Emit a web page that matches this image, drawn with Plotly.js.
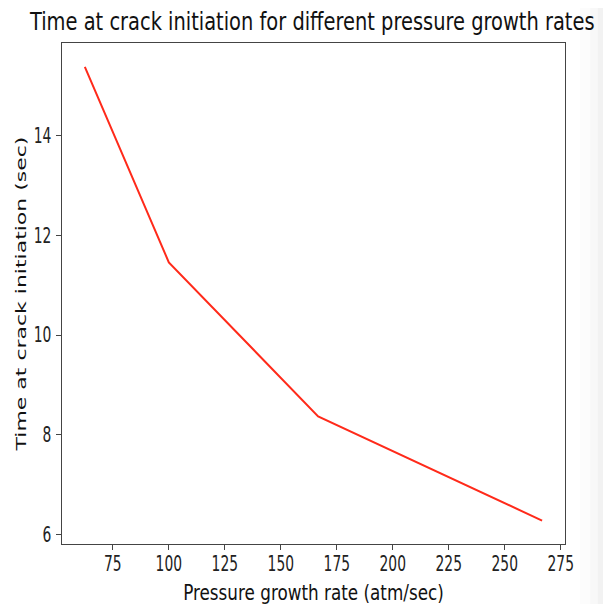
<!DOCTYPE html>
<html><head><meta charset="utf-8">
<script src="https://cdn.plot.ly/plotly-3.0.1.min.js"></script>
<style>
html,body{margin:0;padding:0;background:#fff;}
#c{width:603px;height:610px;}
#c g.xtick, #c g.g-xtitle, #c g.g-gtitle {transform-box: fill-box; transform-origin: center; }
#c g.ytick {transform-box: fill-box; transform-origin: right center; transform: scaleX(0.66);}
#c g.xtick {transform: scaleX(0.66);}
#c g.g-xtitle {transform: scaleX(0.82);}
#c g.g-gtitle {transform: scaleX(0.81);}
#c g.g-ytitle {transform-box: fill-box; transform-origin: center; transform: translateX(15px) scaleX(0.64);}
</style>
</head><body><div id="c"></div>
<script>
const rates = [62.5, 100, 166.67, 266.67];
const times = [15.38, 11.46, 8.37, 6.28];
const xTicks = [75, 100, 125, 150, 175, 200, 225, 250, 275];
const yTicks = [6, 8, 10, 12, 14];

const tickFont = {family: 'DejaVu Sans', size: 21, color: '#222'};
Plotly.newPlot('c', [{
  x: rates, y: times, type: 'scatter', mode: 'lines',
  line: {color: '#ff2a1a', width: 2}, hoverinfo: 'skip'
}], {
  width: 603, height: 610,
  margin: {l: 62, r: 38, t: 43, b: 66},
  paper_bgcolor: '#fff', plot_bgcolor: '#fff',
  showlegend: false,
  title: {text: 'Time at crack initiation for different pressure growth rates',
    font: {family: 'DejaVu Sans', size: 24, color: '#111'},
    x: 0.518, xanchor: 'center', y: 0.964, yanchor: 'middle'},
  xaxis: {range: [52.3, 276.9], tickvals: xTicks, ticks: 'outside', ticklen: 5, tickcolor: '#444',
    ticklabelstandoff: -5,
    showgrid: false, zeroline: false, showline: true, linecolor: '#444', linewidth: 1.4, mirror: true,
    tickfont: tickFont,
    title: {text: 'Pressure growth rate (atm/sec)', font: {family: 'DejaVu Sans', size: 20.5, color: '#111'}, standoff: 11}},
  yaxis: {range: [5.81, 15.86], tickvals: yTicks, ticks: 'outside', ticklen: 5, tickcolor: '#444',
    showgrid: false, zeroline: false, showline: true, linecolor: '#444', linewidth: 1.4, mirror: true,
    tickfont: tickFont,
    title: {text: 'Time at crack initiation (sec)', font: {family: 'DejaVu Sans', size: 22, color: '#111'}, standoff: 4}},
  shapes: [
    {type: 'rect', xref: 'paper', yref: 'paper', x0: 1.03, x1: 1.05, y0: -0.12, y1: 1.07, fillcolor: '#fcfcfc', line: {width: 0}, layer: 'below'},
    {type: 'rect', xref: 'paper', yref: 'paper', x0: 1.05, x1: 1.065, y0: -0.12, y1: 1.07, fillcolor: '#f8f8f8', line: {width: 0}, layer: 'below'},
    {type: 'rect', xref: 'paper', yref: 'paper', x0: 1.065, x1: 1.08, y0: -0.12, y1: 1.07, fillcolor: '#f2f2f2', line: {width: 0}, layer: 'below'}
  ]
}, {displayModeBar: false, staticPlot: true});
</script></body></html>
